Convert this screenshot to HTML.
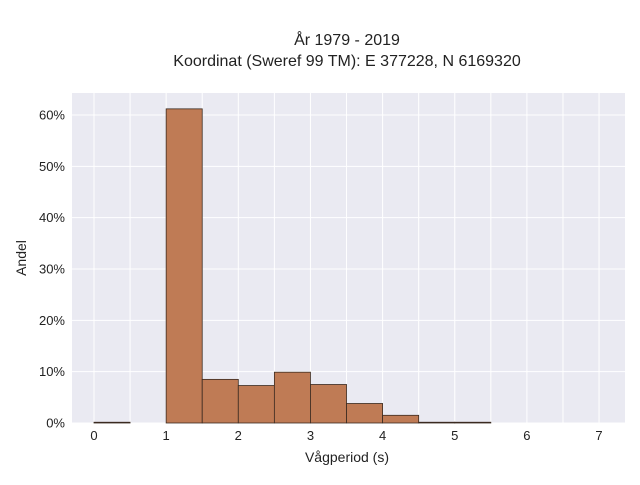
<!DOCTYPE html>
<html><head><meta charset="utf-8"><style>
body{margin:0;background:#fff;font-family:"Liberation Sans",sans-serif;}
svg text{font-family:"Liberation Sans",sans-serif;fill:#222;}
</style></head><body>
<svg id="c" width="640" height="480" xmlns="http://www.w3.org/2000/svg">
<text x="347" y="45" font-size="16" text-anchor="middle">År 1979 - 2019</text>
<text x="347" y="66" font-size="16" text-anchor="middle">Koordinat (Sweref 99 TM): E 377228, N 6169320</text>
<rect x="72" y="93" width="553" height="330" fill="#eaeaf2"/>
<g id="grid"></g><g id="bars"></g><g id="ticks"></g>
<text x="347" y="462" font-size="14" text-anchor="middle">Vågperiod (s)</text>
<text transform="translate(26,258) rotate(-90)" font-size="14" text-anchor="middle">Andel</text>
</svg>
<script>
const binStarts=[0,0.5,1,1.5,2,2.5,3,3.5,4,4.5,5];
const binValues=[0.15,0,61.2,8.5,7.3,9.9,7.5,3.8,1.5,0.15,0.15];
const xTicks=[0,1,2,3,4,5,6,7];
const yTicks=[0,10,20,30,40,50,60];
const binWidth=0.5;
const NS="http://www.w3.org/2000/svg";
const X=v=>94+v*72.15, Y=v=>423-v*5.133;
function mk(t,a,p){const e=document.createElementNS(NS,t);for(const k in a)e.setAttribute(k,a[k]);p.appendChild(e);return e;}
const g=document.getElementById('grid'),b=document.getElementById('bars'),tk=document.getElementById('ticks');
for(let v=-0.5;v<=7.5;v+=0.5){const x=X(v);if(x<72||x>625)continue;
const l=mk('line',{x1:x,x2:x,y1:93,y2:423,stroke:'#fff','stroke-width':1},g);

}
yTicks.forEach(v=>{const l=mk('line',{x1:72,x2:625,y1:Y(v),y2:Y(v),stroke:'#fff','stroke-width':1},g);


const t=mk('text',{x:65,y:Y(v)+4.5,'font-size':13,'text-anchor':'end'},tk);t.textContent=v+'%';

});
xTicks.forEach(v=>{const t=mk('text',{x:X(v),y:440,'font-size':13,'text-anchor':'middle'},tk);t.textContent=v;

});
binStarts.forEach((s,i)=>{const v=binValues[i];if(v<=0)return;
const r=mk('rect',{x:X(s),y:Y(v),width:X(s+binWidth)-X(s),height:Y(0)-Y(v),fill:'#bf7b55',stroke:'#3a2a20','stroke-width':0.8},b);

});
</script>
</body></html>
